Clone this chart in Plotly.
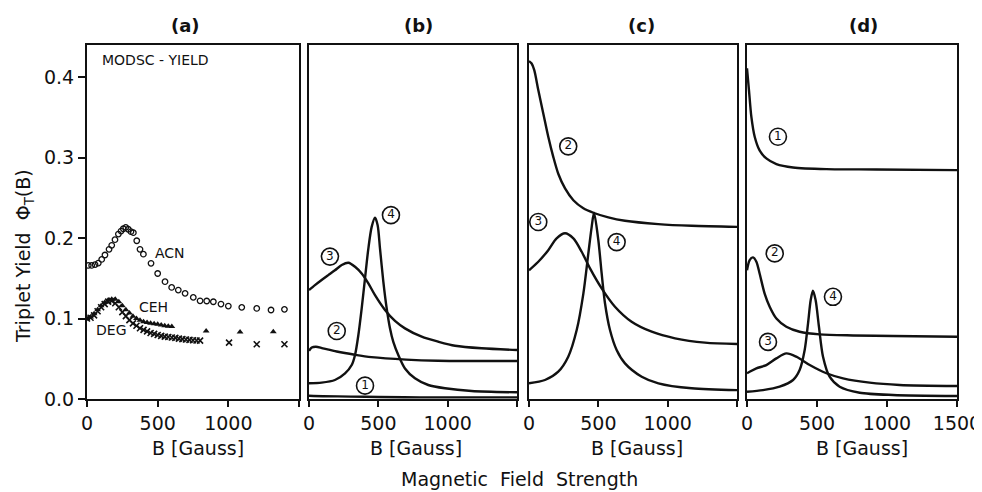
import plotly.graph_objects as go

# ---------------- data ----------------
# Panel (a): measured MODSC yields
acn_B = [9, 33, 57, 80, 104, 127, 156, 175, 198, 222, 241, 257, 274, 292, 311, 328, 352, 375, 399, 453, 500, 552, 599, 646, 694, 752, 800, 847, 894, 948, 1000, 1095, 1201, 1302, 1397]
acn_Y = [0.166, 0.166, 0.167, 0.169, 0.1735, 0.179, 0.186, 0.191, 0.198, 0.205, 0.2087, 0.2116, 0.2133, 0.211, 0.208, 0.2067, 0.1967, 0.186, 0.180, 0.1686, 0.156, 0.1458, 0.1387, 0.1354, 0.1313, 0.1263, 0.122, 0.1218, 0.1209, 0.118, 0.1155, 0.1139, 0.1126, 0.1106, 0.1114]

ceh_B = [0, 25, 50, 75, 100, 125, 150, 175, 200, 225, 250, 275, 300, 325, 350, 375, 400, 425, 450, 475, 500, 525, 550, 575, 600, 843, 1083, 1318]
ceh_Y = [0.100, 0.102, 0.106, 0.111, 0.116, 0.120, 0.123, 0.124, 0.124, 0.121, 0.116, 0.111, 0.107, 0.103, 0.100, 0.098, 0.096, 0.095, 0.094, 0.0935, 0.093, 0.092, 0.091, 0.0905, 0.090, 0.0845, 0.0832, 0.0836]

deg_B = [0, 25, 50, 75, 100, 125, 150, 175, 200, 225, 250, 275, 300, 325, 350, 375, 400, 425, 450, 475, 500, 525, 550, 575, 600, 625, 650, 675, 700, 725, 750, 775, 800, 1005, 1201, 1397]
deg_Y = [0.100, 0.101, 0.104, 0.109, 0.114, 0.118, 0.121, 0.122, 0.119, 0.114, 0.108, 0.103, 0.098, 0.094, 0.091, 0.088, 0.086, 0.084, 0.082, 0.081, 0.0795, 0.0785, 0.0775, 0.077, 0.0765, 0.076, 0.075, 0.0745, 0.074, 0.0735, 0.073, 0.0727, 0.0725, 0.070, 0.068, 0.068]

# Panel (b)
b1_B = [0, 100, 300, 500, 800, 1500]
b1_Y = [0.004, 0.0035, 0.003, 0.0025, 0.002, 0.002]
b2_B = [0, 20, 50, 100, 200, 330, 450, 700, 930, 1200, 1500]
b2_Y = [0.060, 0.064, 0.065, 0.063, 0.059, 0.055, 0.052, 0.049, 0.0476, 0.0473, 0.0472]
b3_B = [0, 43, 91, 139, 187, 236, 284, 332, 380, 428, 476, 548, 620, 692, 813, 933, 1053, 1245, 1500]
b3_Y = [0.1354, 0.1416, 0.148, 0.154, 0.160, 0.1665, 0.1694, 0.1644, 0.156, 0.1437, 0.129, 0.1106, 0.097, 0.0878, 0.0774, 0.0712, 0.0662, 0.063, 0.0609]
b4_B = [0, 91, 187, 260, 308, 332, 356, 380, 404, 428, 452, 476, 495, 512, 536, 560, 584, 608, 644, 692, 764, 860, 981, 1173, 1500]
b4_Y = [0.0195, 0.0203, 0.0236, 0.0319, 0.0422, 0.0547, 0.0795, 0.1126, 0.150, 0.187, 0.214, 0.2253, 0.216, 0.187, 0.146, 0.113, 0.088, 0.071, 0.0547, 0.038, 0.0257, 0.0174, 0.0133, 0.0099, 0.0083]

# Panel (c)
c2_B = [0, 19, 38, 67, 103, 139, 175, 211, 260, 320, 392, 464, 572, 692, 932, 1173, 1500]
c2_Y = [0.420, 0.417, 0.4087, 0.384, 0.355, 0.326, 0.301, 0.280, 0.2617, 0.247, 0.237, 0.2315, 0.2257, 0.2215, 0.2174, 0.2153, 0.214]
c3_B = [0, 67, 139, 199, 260, 320, 380, 440, 524, 620, 740, 885, 1053, 1269, 1500]
c3_Y = [0.160, 0.1706, 0.185, 0.1996, 0.206, 0.1996, 0.183, 0.1623, 0.1375, 0.1147, 0.096, 0.0836, 0.0754, 0.070, 0.0683]
c4_B = [0, 115, 211, 283, 344, 392, 428, 452, 469, 500, 524, 548, 584, 632, 692, 813, 933, 1173, 1500]
c4_Y = [0.0195, 0.0236, 0.034, 0.0526, 0.0857, 0.131, 0.181, 0.214, 0.2315, 0.1975, 0.156, 0.119, 0.0857, 0.0609, 0.0443, 0.0277, 0.0195, 0.0133, 0.011]

# Panel (d)
d1_B = [0, 14, 31, 55, 90, 138, 210, 329, 567, 924, 1500]
d1_Y = [0.411, 0.384, 0.351, 0.326, 0.309, 0.299, 0.292, 0.2878, 0.2857, 0.2853, 0.2845]
d2_B = [0, 19, 43, 67, 90, 126, 162, 210, 281, 376, 519, 757, 1043, 1500]
d2_Y = [0.160, 0.1727, 0.176, 0.1706, 0.156, 0.131, 0.1147, 0.100, 0.0898, 0.0836, 0.0803, 0.079, 0.0783, 0.0774]
d3_B = [0, 67, 138, 210, 281, 352, 448, 567, 686, 876, 1090, 1500]
d3_Y = [0.032, 0.038, 0.0422, 0.0505, 0.0567, 0.0526, 0.0422, 0.032, 0.0257, 0.0203, 0.0174, 0.0161]
d4_B = [0, 114, 233, 329, 376, 412, 436, 455, 471, 490, 514, 543, 590, 662, 805, 1043, 1500]
d4_Y = [0.009, 0.011, 0.0153, 0.0236, 0.036, 0.0609, 0.094, 0.123, 0.1345, 0.123, 0.0898, 0.0526, 0.0277, 0.0153, 0.0078, 0.005, 0.0037]

panel_titles = ["(a)", "(b)", "(c)", "(d)"]
x_tickvals_inner = [0, 500, 1000]
x_tickvals_last = [0, 500, 1000, 1500]
y_tickvals = [0.0, 0.1, 0.2, 0.3, 0.4]
y_ticktext = ["0.0", "0.1", "0.2", "0.3", "0.4"]

# curve labels: (panel index, number, B, Y)
curve_labels = [
    (2, "4", 591, 0.2286), (2, "3", 151, 0.177), (2, "2", 200, 0.0845), (2, "1", 404, 0.0166),
    (3, "2", 283, 0.314), (3, "3", 67, 0.220), (3, "4", 632, 0.195),
    (4, "1", 221, 0.326), (4, "2", 198, 0.181), (4, "3", 150, 0.071), (4, "4", 614, 0.127),
]
series_labels = [("ACN", 587, 0.181), ("CEH", 467, 0.114), ("DEG", 170, 0.0857)]

# ---------------- figure ----------------
# page has an 8px body margin, so the figure is 8px smaller and positions are shifted
OFF = 8
W, H = 982 - OFF, 492 - OFF
FONT = "DejaVu Sans"
BLACK = "#111111"

fig = go.Figure()

def px2x(p):
    return (p - OFF) / W

def px2y(p):
    return (H - (p - OFF)) / H

xdom = [(87, 299), (309, 517), (529, 737), (747, 957)]
ytop, ybot = 45, 399

# panel a markers
fig.add_trace(go.Scatter(x=acn_B, y=acn_Y, mode="markers", xaxis="x", yaxis="y",
                         marker=dict(symbol="circle-open", size=5.5, color=BLACK, line=dict(width=1.3, color=BLACK))))
fig.add_trace(go.Scatter(x=ceh_B, y=ceh_Y, mode="markers", xaxis="x", yaxis="y",
                         marker=dict(symbol="triangle-up", size=6, color=BLACK)))
fig.add_trace(go.Scatter(x=deg_B, y=deg_Y, mode="markers", xaxis="x", yaxis="y",
                         marker=dict(symbol="x-thin", size=6, color=BLACK, line=dict(width=1.6, color=BLACK))))

curves = [
    (2, b1_B, b1_Y), (2, b2_B, b2_Y), (2, b3_B, b3_Y), (2, b4_B, b4_Y),
    (3, c2_B, c2_Y), (3, c3_B, c3_Y), (3, c4_B, c4_Y),
    (4, d1_B, d1_Y), (4, d2_B, d2_Y), (4, d3_B, d3_Y), (4, d4_B, d4_Y),
]
for idx, bx, by in curves:
    fig.add_trace(go.Scatter(x=bx, y=by, mode="lines", xaxis=f"x{idx}", yaxis=f"y{idx}",
                             line=dict(color=BLACK, width=2.4, shape="spline", smoothing=0.8)))

# circled curve numbers
for idx in (2, 3, 4):
    sel = [c for c in curve_labels if c[0] == idx]
    fig.add_trace(go.Scatter(
        x=[c[2] for c in sel], y=[c[3] for c in sel], text=[c[1] for c in sel],
        mode="markers+text", textposition="middle center", xaxis=f"x{idx}", yaxis=f"y{idx}",
        textfont=dict(size=12, family=FONT, color=BLACK),
        marker=dict(symbol="circle-open", size=17, color=BLACK, line=dict(width=1.6, color=BLACK))))

layout = dict(width=W, height=H, margin=dict(l=0, r=0, t=0, b=0, pad=0, autoexpand=False),
              paper_bgcolor="white", plot_bgcolor="white", showlegend=False,
              font=dict(family=FONT, color=BLACK))

for i, (x0, x1) in enumerate(xdom):
    n = "" if i == 0 else str(i + 1)
    layout[f"xaxis{n}"] = dict(
        domain=[px2x(x0), px2x(x1)], range=[0, 1500], anchor=f"y{n}", automargin=False,
        showline=True, linecolor=BLACK, linewidth=2, mirror=True,
        showgrid=False, zeroline=False, ticks="outside", ticklen=6, tickwidth=1.5, tickcolor=BLACK,
        tickvals=(x_tickvals_last if i == 3 else x_tickvals_inner),
        tickfont=dict(size=19, family=FONT, color=BLACK),
        minor=dict(tickvals=[1500], ticks="outside", ticklen=6, tickwidth=1.5, tickcolor=BLACK, showgrid=False),
    )
    layout[f"yaxis{n}"] = dict(
        domain=[px2y(ybot), px2y(ytop)], range=[0, 0.44], anchor=f"x{n}", automargin=False,
        showline=True, linecolor=BLACK, linewidth=2, mirror=True,
        showgrid=False, zeroline=False,
        ticks=("outside" if i == 0 else ""), ticklen=7, tickwidth=1.5, tickcolor=BLACK,
        tickvals=y_tickvals, ticktext=y_ticktext, showticklabels=(i == 0),
        tickfont=dict(size=19, family=FONT, color=BLACK),
    )

def pann(text, xp, yp, size, xanchor="center", angle=0, family=FONT):
    return dict(text=text, x=px2x(xp), y=px2y(yp), xref="paper", yref="paper",
                xanchor=xanchor, yanchor="middle", textangle=angle, showarrow=False,
                font=dict(size=size, family=family, color=BLACK))

ann = []
title_x = [185, 418, 641, 863]
gauss_x = [198, 416, 637, 862]
for i in range(4):
    ann.append(pann(f"<b>{panel_titles[i]}</b>", title_x[i], 25, 18))
    ann.append(pann("B [Gauss]", gauss_x[i], 448, 19))
ann.append(pann("Magnetic  Field  Strength", 519, 479, 19))
ann.append(pann("Triplet Yield  Φ<sub>T</sub>(B)", 24, 256, 19, angle=-90))
ann.append(pann("MODSC - YIELD", 100, 60, 14, xanchor="left"))
for t, bx, by in series_labels:
    ann.append(dict(text=t, x=bx, y=by, xref="x", yref="y", xanchor="center", yanchor="middle",
                    showarrow=False, font=dict(size=14, family=FONT, color=BLACK)))
layout["annotations"] = ann

fig.update_layout(**layout)
fig.write_html("out.html")
